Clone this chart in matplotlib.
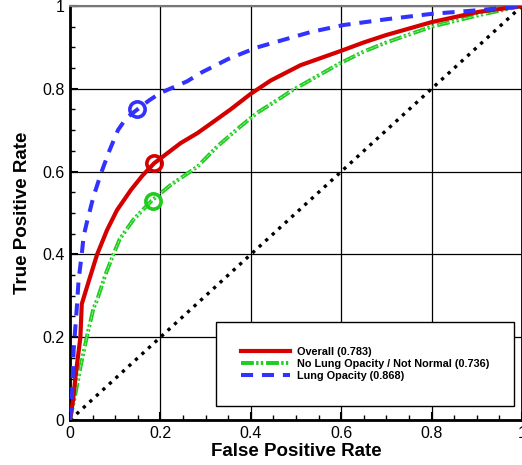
import matplotlib.pyplot as plt
from matplotlib.ticker import MultipleLocator

plt.rcParams["font.family"] = ["Liberation Sans", "DejaVu Sans"]

# ROC curves
overall_fpr = [0, 0.007, 0.012, 0.023, 0.026, 0.04, 0.06, 0.082, 0.104, 0.135, 0.16, 0.186, 0.245,
               0.282, 0.318, 0.355, 0.4, 0.444, 0.51, 0.598, 0.65, 0.70, 0.80, 0.905, 1.0]
overall_tpr = [0, 0.05, 0.103, 0.2, 0.28, 0.33, 0.40, 0.459, 0.507, 0.556, 0.59, 0.62, 0.669,
               0.693, 0.721, 0.750, 0.788, 0.82, 0.857, 0.891, 0.912, 0.930, 0.961, 0.986, 1.0]

nolung_fpr = [0, 0.012, 0.023, 0.037, 0.052, 0.06, 0.078, 0.096, 0.11, 0.141, 0.181, 0.223,
              0.282, 0.326, 0.377, 0.414, 0.466, 0.488, 0.598, 0.65, 0.70, 0.80, 0.905, 1.0]
nolung_tpr = [0, 0.063, 0.127, 0.2, 0.27, 0.29, 0.35, 0.4, 0.437, 0.485, 0.53, 0.568,
              0.612, 0.661, 0.709, 0.742, 0.778, 0.794, 0.862, 0.89, 0.912, 0.95, 0.978, 1.0]

lung_fpr = [0, 0.004, 0.006, 0.008, 0.015, 0.019, 0.026, 0.03, 0.037, 0.052, 0.07, 0.087, 0.106,
            0.125, 0.149, 0.175, 0.2, 0.259, 0.292, 0.35, 0.414, 0.532, 0.605, 0.70, 0.80, 0.905, 1.0]
lung_tpr = [0, 0.05, 0.1, 0.168, 0.27, 0.338, 0.4, 0.443, 0.476, 0.54, 0.6, 0.65, 0.7,
            0.73, 0.75, 0.772, 0.79, 0.818, 0.84, 0.872, 0.9, 0.937, 0.954, 0.968, 0.981, 0.99, 1.0]

# operating points (circles)
overall_point = (0.186, 0.62)
nolung_point = (0.183, 0.53)
lung_point = (0.149, 0.75)

labels = ["Overall (0.783)", "No Lung Opacity / Not Normal (0.736)", "Lung Opacity (0.868)"]
tick_vals = [0, 0.2, 0.4, 0.6, 0.8, 1.0]
tick_labels = ["0", "0.2", "0.4", "0.6", "0.8", "1"]

RED = "#d40000"
GREEN = "#1ecc1e"
BLUE = "#3232ff"
GREEN_DASH = (3.3, 0.6, 0.6, 0.6, 0.6, 0.75)

fig = plt.figure(figsize=(5.22, 4.65), dpi=100)
ax = fig.add_axes([70 / 522, 45 / 465, 452 / 522, 414 / 465])

ax.plot([0, 1], [0, 1], color="black", linestyle=":", linewidth=2.4, zorder=2)

green_line, = ax.plot(nolung_fpr, nolung_tpr, color=GREEN, linewidth=2.8,
                      dashes=GREEN_DASH, zorder=3, label=labels[1])
ax.plot(nolung_fpr, nolung_tpr, color="#c8f5c8", linewidth=0.5, dashes=GREEN_DASH, zorder=3.1)
red_line, = ax.plot(overall_fpr, overall_tpr, color=RED, linewidth=3, zorder=4, label=labels[0])
blue_line, = ax.plot(lung_fpr, lung_tpr, color=BLUE, linewidth=2.9, dashes=(3, 2.2),
                     zorder=5, label=labels[2])

for (px, py), col in [(overall_point, RED), (nolung_point, GREEN), (lung_point, BLUE)]:
    ax.plot([px], [py], marker="o", markersize=11, markerfacecolor="none",
            markeredgecolor=col, markeredgewidth=2.6, zorder=6)

ax.set_xlim(0, 1)
ax.set_ylim(0, 1)
ax.set_xticks(tick_vals)
ax.set_xticklabels(tick_labels)
ax.set_yticks(tick_vals)
ax.set_yticklabels(tick_labels)
ax.xaxis.set_minor_locator(MultipleLocator(0.05))
ax.yaxis.set_minor_locator(MultipleLocator(0.05))

ax.tick_params(which="major", direction="in", length=6, width=1.5, labelsize=11.5, pad=4)
ax.tick_params(which="minor", direction="in", length=3.5, width=1.0)
ax.grid(True, which="major", color="black", linewidth=0.9, zorder=1)
ax.set_axisbelow(True)

for side in ["left", "bottom", "right"]:
    ax.spines[side].set_linewidth(2.0)
ax.spines["top"].set_color("#777777")
ax.spines["top"].set_linewidth(1.5)

ax.set_xlabel("False Positive Rate", fontsize=13.5, fontweight="bold", labelpad=2)
ax.set_ylabel("True Positive Rate", fontsize=13.5, fontweight="bold", labelpad=8)

leg = ax.legend(handles=[red_line, green_line, blue_line], loc="lower right",
                bbox_to_anchor=(0.982, 0.034), prop={"size": 7.8, "weight": "bold"},
                borderpad=2.3, handlelength=4.5, handletextpad=0.6, labelspacing=0.2,
                fancybox=False, framealpha=1, edgecolor="black", borderaxespad=0)
leg.get_frame().set_linewidth(1.0)

fig.savefig("out.png", dpi=100)
